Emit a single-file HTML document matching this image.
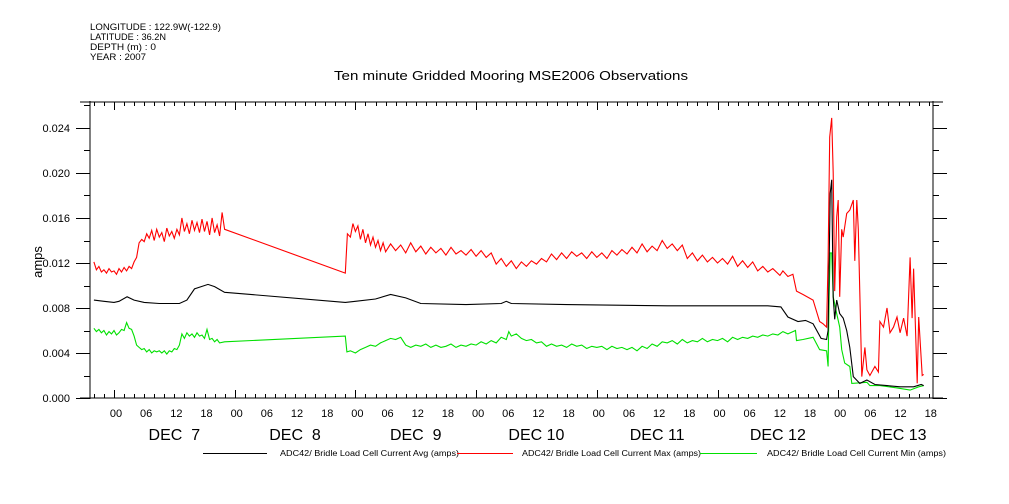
<!DOCTYPE html>
<html><head><meta charset="utf-8">
<style>
body{margin:0;background:#fff;}
svg{display:block;font-family:"Liberation Sans",sans-serif;}
</style></head>
<body>
<svg id="chart" width="1009" height="504" viewBox="0 0 1009 504">
<g font-size="9" fill="#000">
<text x="90" y="30" textLength="131" lengthAdjust="spacingAndGlyphs">LONGITUDE : 122.9W(-122.9)</text>
<text x="90" y="40" textLength="76" lengthAdjust="spacingAndGlyphs">LATITUDE : 36.2N</text>
<text x="90" y="50" textLength="66" lengthAdjust="spacingAndGlyphs">DEPTH (m) : 0</text>
<text x="90" y="60" textLength="56" lengthAdjust="spacingAndGlyphs">YEAR : 2007</text>
</g>
<text x="334" y="80" textLength="354" lengthAdjust="spacingAndGlyphs" font-size="13">Ten minute Gridded Mooring MSE2006 Observations</text>
<text transform="translate(42,262) rotate(-90)" text-anchor="middle" font-size="13">amps</text>
<g id="axes"></g>
<g id="series"></g>
<g id="legend"></g>
</svg>
<script>
const yTicks=[0,0.004,0.008,0.012,0.016,0.020,0.024];
const yTickLabels=["0.000","0.004","0.008","0.012","0.016","0.020","0.024"];
const dayLabels=["DEC  7","DEC  8","DEC  9","DEC 10","DEC 11","DEC 12","DEC 13"];
const hourLabels=["00","06","12","18"];
const seriesNames=["ADC42/ Bridle Load Cell Current Avg (amps)","ADC42/ Bridle Load Cell Current Max (amps)","ADC42/ Bridle Load Cell Current Min (amps)"];

const avgHours=[-4,-2,0,1,2.6,4,6,9,13,14.5,16,18.7,20,22,46,48,52,55,58,61,70,77,78,79,90,110,130,132.6,134,136,137.5,139,140.6,141.7,142,142.4,142.7,143,143.3,143.7,144.3,145,145.7,146.3,147,148.3,149.7,151.3,153.7,156.3,159,160.5,161];
const avgVals=[.0087,.0086,.0085,.0086,.0090,.0087,.0085,.0084,.0084,.0087,.0097,.0101,.0099,.0094,.0085,.0086,.0088,.0092,.0089,.0084,.0083,.0084,.0086,.0084,.0083,.0082,.0082,.0081,.0072,.0068,.0069,.0066,.0053,.0052,.0060,.0182,.0194,.0090,.0070,.0087,.0075,.0071,.0060,.0045,.0019,.0013,.0016,.0012,.0011,.0010,.0010,.0012,.0011];

const maxHours=[-4,-3.5,-3,-2.5,-2,-1.5,-1,-0.5,0,0.5,1,1.5,2,2.5,3,3.5,4,4.5,5,5.5,6,6.5,7,7.5,8,8.5,9,9.5,10,10.5,11,11.5,12,12.5,13,13.5,14,14.5,15,15.5,16,16.5,17,17.5,18,18.5,19,19.5,20,20.5,21,21.5,22,
46,46.4,47,47.5,48,48.5,49,49.5,50,50.5,51,51.5,52,52.5,53,53.5,54,55,56,57,58,59,60,61,62,63,64,65,66,67,68,69,70,71,72,73,74,75,76,77,78,79,80,81,82,83,84,85,86,87,88,89,90,91,92,93,94,95,96,97,98,99,100,101,102,103,104,105,106,107,108,109,110,111,112,113,114,115,116,117,118,119,120,121,122,123,124,125,126,127,128,129,130,131,132.4,133,134,135,135.7,137,139,140.3,141,141.7,
142,142.3,142.7,143,143.3,143.7,144,144.3,144.7,145,145.7,146.3,147,147.3,147.7,148,148.3,148.7,149.3,149.7,150.3,151.3,152,152.3,153,153.7,154.3,155,155.7,156.3,157,157.7,158.3,158.7,159,159.7,160,160.7,161];
const maxVals=[.0121,.0114,.0117,.0112,.0114,.0111,.0115,.0112,.0113,.0110,.0115,.0112,.0116,.0113,.0117,.0115,.0121,.0125,.0138,.0141,.0139,.0146,.0142,.0149,.0140,.0150,.0143,.0147,.0139,.0151,.0144,.0148,.0142,.0150,.0145,.0160,.0148,.0155,.0146,.0158,.0149,.0156,.0147,.0159,.0148,.0157,.0145,.0160,.0147,.0154,.0144,.0165,.0150,
.0111,.0146,.0143,.0155,.0148,.0153,.0141,.0150,.0138,.0146,.0136,.0143,.0134,.0140,.0131,.0138,.0130,.0137,.0131,.0136,.0129,.0138,.0130,.0135,.0128,.0134,.0129,.0133,.0127,.0134,.0128,.0131,.0127,.0132,.0126,.0131,.0125,.0129,.0119,.0124,.0117,.0122,.0115,.0121,.0117,.0122,.0119,.0124,.0121,.0128,.0123,.0129,.0124,.0130,.0126,.0129,.0124,.0130,.0125,.0129,.0124,.0131,.0127,.0132,.0128,.0134,.0129,.0137,.0130,.0135,.0131,.0140,.0133,.0137,.0131,.0136,.0124,.0129,.0122,.0127,.0121,.0125,.0120,.0124,.0119,.0126,.0117,.0122,.0116,.0121,.0113,.0117,.0112,.0115,.0109,.0113,.0108,.0110,.0095,.0092,.0087,.0068,.0066,.0063,
.0123,.0232,.0249,.0200,.0095,.0161,.0176,.0090,.0150,.0143,.0164,.0167,.0176,.0122,.0176,.0150,.0094,.0019,.0045,.0025,.0020,.0028,.0023,.0068,.0063,.0080,.0058,.0063,.0072,.0058,.0071,.0055,.0125,.0071,.0115,.0013,.0072,.0020,.0021];

const minHours=[-4,-3.5,-3,-2.5,-2,-1.5,-1,-0.5,0,0.5,1,1.5,2,2.5,3,3.5,4,4.5,5,5.5,6,6.5,7,7.5,8,8.5,9,9.5,10,10.5,11,11.5,12,12.5,13,13.5,14,14.5,15,15.5,16,16.5,17,17.5,18,18.5,19,19.5,20,20.5,21,22,
46,46.3,47,48,49,50,51,52,53,54,55,56,57,58,59,60,61,62,63,64,65,66,67,68,69,70,71,72,73,74,75,76,77,78,78.5,79,80,81,82,83,84,85,86,87,88,89,90,91,92,93,94,95,96,97,98,99,100,101,102,103,104,105,106,107,108,109,110,111,112,113,114,115,116,117,118,119,120,121,122,123,124,125,126,127,128,129,130,131,132,133,134,135.5,135.7,137,139,140.3,141.7,142,142.2,142.4,142.7,143,143.7,144.3,144.7,145.3,146.3,146.7,149.7,150.3,152.3,155.7,158.3,160,161];
const minVals=[.0062,.0059,.0061,.0058,.0060,.0056,.0059,.0057,.0060,.0056,.0058,.0061,.0060,.0067,.0062,.0061,.0055,.0047,.0045,.0043,.0044,.0041,.0043,.0040,.0042,.0041,.0042,.0040,.0042,.0039,.0042,.0041,.0044,.0043,.0047,.0057,.0053,.0058,.0055,.0057,.0054,.0058,.0055,.0056,.0053,.0061,.0052,.0053,.0050,.0052,.0049,.0050,
.0055,.0041,.0042,.0040,.0043,.0045,.0047,.0046,.0049,.0051,.0053,.0052,.0054,.0047,.0045,.0047,.0046,.0048,.0045,.0047,.0045,.0046,.0048,.0045,.0047,.0046,.0048,.0047,.0050,.0048,.0051,.0049,.0054,.0052,.0059,.0055,.0057,.0053,.0051,.0052,.0049,.0050,.0046,.0048,.0046,.0047,.0045,.0048,.0046,.0047,.0044,.0046,.0045,.0046,.0043,.0046,.0044,.0045,.0043,.0045,.0042,.0046,.0044,.0048,.0046,.0050,.0049,.0051,.0048,.0052,.0049,.0051,.0050,.0053,.0050,.0052,.0051,.0053,.0050,.0054,.0052,.0054,.0053,.0055,.0054,.0056,.0055,.0057,.0056,.0059,.0057,.0060,.0051,.0052,.0054,.0043,.0042,.0028,.0090,.0129,.0129,.0090,.0075,.0063,.0043,.0031,.0028,.0013,.0014,.0011,.0011,.0009,.0007,.0010,.0011];

const NS="http://www.w3.org/2000/svg";
const X0=114, PXH=120.7/24, Y0=398, PXA=11250;
function xs(h){return X0+h*PXH;}
function ys(v){return Y0-v*PXA;}
function mk(tag,attrs,parent){const e=document.createElementNS(NS,tag);for(const k in attrs)e.setAttribute(k,attrs[k]);parent.appendChild(e);return e;}
const axes=document.getElementById('axes');
const L=90,R=933,T=102,B=398;
let p;
p=mk('line',{x1:80,y1:B,x2:943,y2:B,stroke:'#000'},axes);


p=mk('line',{x1:80,y1:T,x2:943,y2:T,stroke:'#000'},axes);


p=mk('line',{x1:L,y1:T-1,x2:L,y2:B+1,stroke:'#000'},axes);


p=mk('line',{x1:R,y1:T-1,x2:R,y2:B+1,stroke:'#000'},axes);


let d='';
for(let h=-4;h<=162;h+=2){const x=Math.round(xs(h))+0.5;if(x<L||x>R)continue;const major=(h%24===0);const len=major?8:4;d+=`M${x},${B}v${-len}M${x},${T}v${len}`;}
p=mk('path',{d:d,stroke:'#000','stroke-width':1,fill:'none'},axes);


for(let day=0;day<7;day++){
  for(let i=0;i<4;i++){const h=day*24+i*6;if(xs(h)>R)continue;
    const t=mk('text',{x:xs(h)+2,y:417,'text-anchor':'middle','font-size':11},axes);t.textContent=hourLabels[i];
    
    }
  const t=mk('text',{x:xs(day*24+12),y:440,'text-anchor':'middle','font-size':16},axes);t.textContent=dayLabels[day];t.style.whiteSpace='pre';
  
  
}
d='';
for(let v=0;v<=0.0261;v+=0.002){const y=Math.round(ys(v))+0.5;if(y<T)continue;const major=Math.round(v*1000)%4===0;const len=major?14:6;d+=`M${L},${y}h${-len}M${R},${y}h${len}`;}
p=mk('path',{d:d,stroke:'#000',fill:'none'},axes);


yTicks.forEach((v,i)=>{const t=mk('text',{x:70,y:ys(v)+4,'text-anchor':'end','font-size':11},axes);t.textContent=yTickLabels[i];
  
  });
const ser=document.getElementById('series');
function line(hs,vs,color,name){const pts=hs.map((h,i)=>xs(h).toFixed(1)+','+ys(vs[i]).toFixed(1)).join(' ');
  const e=mk('polyline',{points:pts,fill:'none',stroke:color,'stroke-width':1.1},ser);
  
  }
line(minHours,minVals,'#00e000','series-min');
line(avgHours,avgVals,'#000','series-avg');
line(maxHours,maxVals,'#f00','series-max');
const leg=document.getElementById('legend');
const legX=[[203,267,280],[457,513,522],[700,757,767]];
const legC=['#000','#f00','#00e000'];
const legN=['legend-avg','legend-max','legend-min'];
for(let i=0;i<3;i++){
  const g=mk('g',{},leg);
  
  
  mk('line',{x1:legX[i][0],y1:453.5,x2:legX[i][1],y2:453.5,stroke:legC[i]},g);
  const t=mk('text',{x:legX[i][2],y:456,'font-size':8,textLength:179,lengthAdjust:'spacingAndGlyphs'},g);t.textContent=seriesNames[i];
}
</script>
</body></html>
